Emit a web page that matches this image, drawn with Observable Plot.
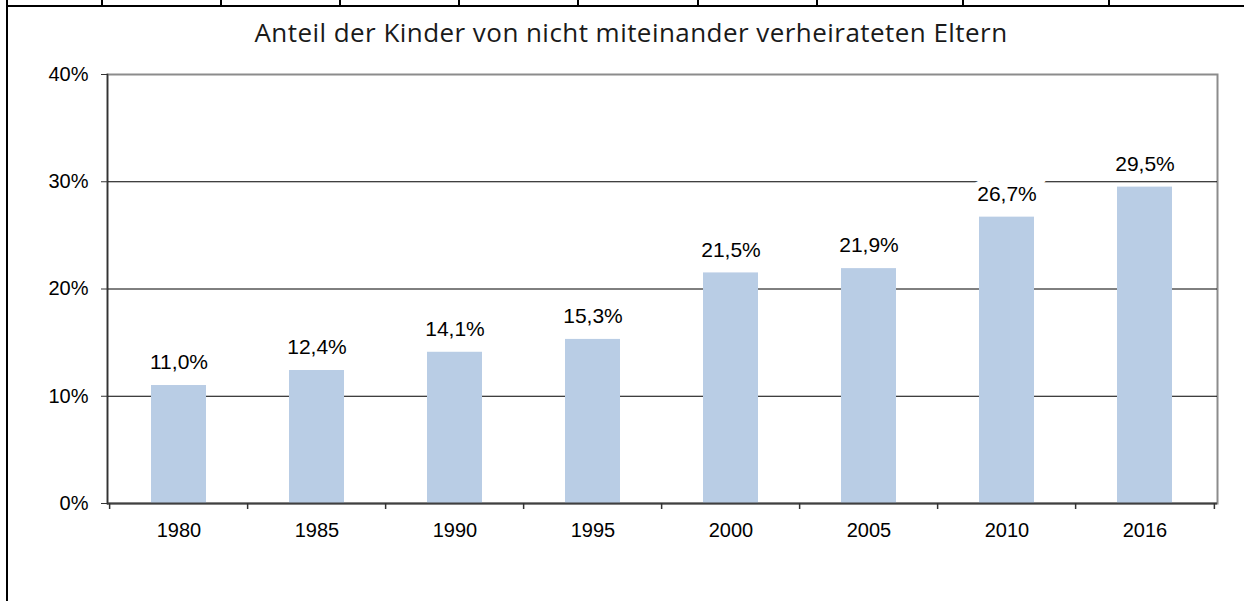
<!DOCTYPE html>
<html>
<head>
<meta charset="utf-8">
<script src="https://cdn.jsdelivr.net/npm/d3@7"></script>
<script src="https://cdn.jsdelivr.net/npm/@observablehq/plot@0.6"></script>
<style>
  html, body { margin: 0; padding: 0; background: #fff; }
  #page { position: relative; width: 1244px; height: 601px; overflow: hidden; background: #fff; }
  .bl { position: absolute; background: #000; }
  #title { position: absolute; top: 14px; left: 631px; transform: translateX(-50%); white-space: nowrap;
           font-family: "Open Sans", "Noto Sans", sans-serif; font-size: 26px; letter-spacing: 0.45px; color: #1a1a1a; }
  #chart { position: absolute; top: 50px; left: 0; }
</style>
</head>
<body>
<div id="page">
  <div class="bl" style="left:6px;top:0;width:2px;height:601px"></div>
  <div class="bl" style="left:6px;top:5px;width:1238px;height:2px"></div>
  <div class="bl" style="left:101px;top:0;width:2px;height:6px"></div>
  <div class="bl" style="left:220px;top:0;width:2px;height:6px"></div>
  <div class="bl" style="left:339px;top:0;width:2px;height:6px"></div>
  <div class="bl" style="left:458px;top:0;width:2px;height:6px"></div>
  <div class="bl" style="left:577px;top:0;width:2px;height:6px"></div>
  <div class="bl" style="left:697px;top:0;width:2px;height:6px"></div>
  <div class="bl" style="left:816px;top:0;width:2px;height:6px"></div>
  <div class="bl" style="left:962px;top:0;width:2px;height:6px"></div>
  <div class="bl" style="left:1108px;top:0;width:2px;height:6px"></div>
  <div id="title">Anteil der Kinder von nicht miteinander verheirateten Eltern</div>
  <div id="chart"></div>
</div>
<script>
const years = ["1980", "1985", "1990", "1995", "2000", "2005", "2010", "2016"];
const shares = [11.0, 12.4, 14.1, 15.3, 21.5, 21.9, 26.7, 29.5];
const yTicks = [0, 10, 20, 30, 40];
const gridValues = [10, 20, 30];

const data = years.map((year, i) => ({year, share: shares[i]}));
const fmt = v => v.toFixed(1).replace(".", ",") + "%";

const W = 1244, H = 551;
const mL = 107, mR = 27, mT = 24, mB = 98;
const halfStep = (W - mL - mR) / years.length / 2;

const chart = Plot.plot({
  width: W,
  height: H,
  marginLeft: mL,
  marginRight: mR,
  marginTop: mT,
  marginBottom: mB,
  style: {fontFamily: "'Liberation Sans', Arial, sans-serif", fontSize: "20px", color: "#000", background: "transparent", overflow: "visible"},
  x: {type: "band", domain: years, paddingInner: 0.6, paddingOuter: 0.3, label: null},
  y: {domain: [0, 40], label: null},
  marks: [
    Plot.frame({stroke: "#8c8c8c", strokeWidth: 2}),
    Plot.ruleY(gridValues, {stroke: "#000", strokeWidth: 1}),
    Plot.text(data, {x: "year", y: "share", text: d => fmt(d.share), dy: -23, fill: "#000", fontSize: 21,
                     stroke: "#fff", strokeWidth: 14, strokeLinejoin: "miter", paintOrder: "stroke"}),
    Plot.barY(data, {x: "year", y: "share", fill: "#b9cde5"}),
    Plot.ruleY([0], {stroke: "#404040", strokeWidth: 2}),
    Plot.frame({anchor: "left", stroke: "#333", strokeWidth: 1.5}),
    Plot.axisY({ticks: yTicks, tickFormat: d => d + "%", tickSize: 6, tickPadding: 13, stroke: "#333", fill: "#000", label: null}),
    Plot.axisX({tickSize: 0, tickPadding: 19, fill: "#000", label: null}),
    Plot.axisX({tickSize: 6, fill: "none", stroke: "#333", strokeWidth: 1.5, dx: -halfStep, label: null}),
    Plot.axisX({ticks: [years[years.length - 1]], tickSize: 6, fill: "none", stroke: "#333", strokeWidth: 1.5, dx: halfStep, label: null})
  ]
});
document.getElementById("chart").appendChild(chart);
</script>
</body>
</html>
